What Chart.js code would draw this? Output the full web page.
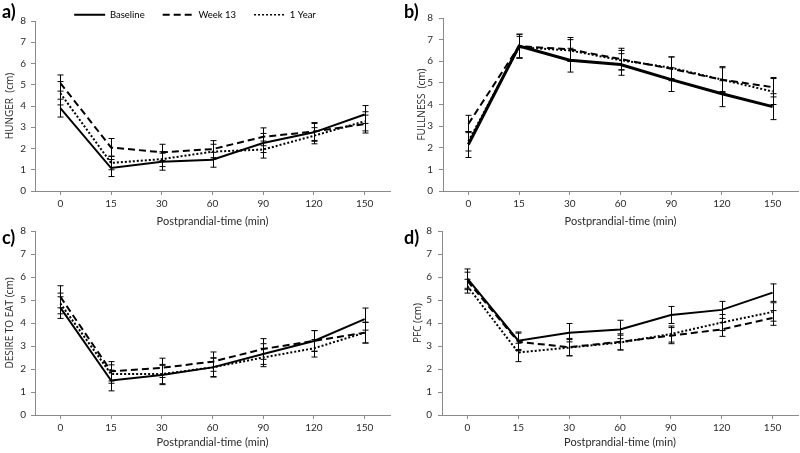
<!DOCTYPE html>
<html>
<head>
<meta charset="utf-8">
<script src="https://cdn.jsdelivr.net/npm/chart.js@4.4.1/dist/chart.umd.min.js"></script>
<style>
  html, body { margin: 0; padding: 0; background: #fff; }
  #wrap { position: relative; width: 800px; height: 453px; overflow: hidden; }
  canvas { position: absolute; }
  .tag { position: absolute; font: bold 18px Lato, sans-serif; color: #000; line-height: 1; }
</style>
</head>
<body>
<div id="wrap">
  <canvas id="cA"></canvas>
  <canvas id="cB"></canvas>
  <canvas id="cC"></canvas>
  <canvas id="cD"></canvas>
  <div class="tag" style="left:2px;top:2px">a)</div>
  <div class="tag" style="left:404px;top:2px">b)</div>
  <div class="tag" style="left:2px;top:228px">c)</div>
  <div class="tag" style="left:404px;top:228px">d)</div>
</div>
<script>
const timeLabels = ['0', '15', '30', '60', '90', '120', '150'];
const seriesNames = ['Baseline', 'Week 13', '1 Year'];
const yTicksMax = 8;

// a) hunger
const hungerBaseline = [3.9, 1.08, 1.38, 1.47, 2.26, 2.76, 3.6];
const hungerWeek13 = [5.08, 2.05, 1.82, 1.97, 2.55, 2.8, 3.15];
const hungerYear1 = [4.6, 1.32, 1.5, 1.85, 1.95, 2.6, 3.28];
const hungerBaselineErr = [0.42, 0.4, 0.4, 0.35, 0.45, 0.42, 0.42];
const hungerWeek13Err = [0.38, 0.42, 0.38, 0.4, 0.42, 0.42, 0.42];
const hungerYear1Err = [0.55, 0.32, 0.35, 0.35, 0.4, 0.38, 0.45];

// b) fullness
const fullBaseline = [2.15, 6.7, 6.05, 5.85, 5.15, 4.5, 3.9];
const fullWeek13 = [3.1, 6.7, 6.55, 6.1, 5.65, 5.15, 4.8];
const fullYear1 = [2.3, 6.65, 6.5, 6.05, 5.7, 5.15, 4.6];
const fullBaselineErr = [0.6, 0.55, 0.55, 0.5, 0.55, 0.6, 0.6];
const fullWeek13Err = [0.4, 0.55, 0.55, 0.5, 0.55, 0.55, 0.45];
const fullYear1Err = [0.45, 0.5, 0.5, 0.45, 0.5, 0.6, 0.6];

// c) desire to eat
const desireBaseline = [4.67, 1.5, 1.74, 2.07, 2.65, 3.22, 4.17];
const desireWeek13 = [5.14, 1.9, 2.05, 2.32, 2.87, 3.22, 3.58];
const desireYear1 = [4.85, 1.78, 1.78, 2.07, 2.5, 2.9, 3.58];
const desireBaselineErr = [0.47, 0.45, 0.42, 0.42, 0.45, 0.45, 0.48];
const desireWeek13Err = [0.48, 0.42, 0.42, 0.42, 0.45, 0.45, 0.45];
const desireYear1Err = [0.45, 0.4, 0.42, 0.4, 0.4, 0.38, 0.45];

// d) PFC
const pfcBaseline = [5.93, 3.23, 3.58, 3.72, 4.35, 4.57, 5.32];
const pfcWeek13 = [5.83, 3.18, 2.95, 3.18, 3.45, 3.72, 4.22];
const pfcYear1 = [5.6, 2.72, 2.93, 3.15, 3.52, 4.02, 4.48];
const pfcBaselineErr = [0.42, 0.38, 0.4, 0.4, 0.37, 0.37, 0.38];
const pfcWeek13Err = [0.38, 0.38, 0.38, 0.35, 0.35, 0.3, 0.32];
const pfcYear1Err = [0.3, 0.4, 0.35, 0.32, 0.35, 0.35, 0.4];

const FONT = 'Lato, sans-serif';
const TEXT = '#2a2a2a';
const AXIS = '#8a8a8a';

// error bars drawn with the chart's own scales
const errorBars = {
  id: 'errorBars',
  afterDatasetsDraw(chart) {
    const { ctx, scales: { x, y } } = chart;
    ctx.save();
    ctx.strokeStyle = '#000';
    ctx.lineWidth = 1;
    ctx.setLineDash([]);
    chart.data.datasets.forEach(ds => {
      ds.data.forEach((v, i) => {
        const e = ds.errors[i];
        const px = Math.round(x.getPixelForValue(i)) + 0.5;
        const yt = y.getPixelForValue(v + e);
        const yb = y.getPixelForValue(v - e);
        ctx.beginPath();
        ctx.moveTo(px, yt); ctx.lineTo(px, yb);
        ctx.moveTo(px - 3, yt); ctx.lineTo(px + 3, yt);
        ctx.moveTo(px - 3, yb); ctx.lineTo(px + 3, yb);
        ctx.stroke();
      });
    });
    ctx.restore();
  }
};

// legend samples keep the dataset dash pattern
function legendItems(chart) {
  return Chart.defaults.plugins.legend.labels.generateLabels(chart).map(item => {
    const ds = chart.data.datasets[item.datasetIndex];
    return Object.assign(item, { lineDash: ds.borderDash || [], lineWidth: ds.borderDash && ds.borderDash[0] < 3 ? 1.5 : 2, strokeStyle: '#000' });
  });
}

function makePanel(id, g, yTitle, base, wk, yr, errs, legend) {
  const el = document.getElementById(id);
  el.style.left = g.left + 'px';
  el.style.top = g.top + 'px';
  el.width = g.w;
  el.height = g.h;
  const xBoxBottom = g.xTitleY + 6.6;
  const legendPad = 18;
  const legendShift = 8;
  new Chart(el, {
    type: 'line',
    data: {
      labels: timeLabels,
      datasets: [
        { label: seriesNames[0], data: base, errors: errs[0], borderColor: '#000', borderWidth: g.baseWidth || 2, pointRadius: 0, fill: false, tension: 0 },
        { label: seriesNames[1], data: wk, errors: errs[1], borderColor: '#000', borderWidth: 2, borderDash: [7, 4], pointRadius: 0, fill: false, tension: 0 },
        { label: seriesNames[2], data: yr, errors: errs[2], borderColor: '#000', borderWidth: 2, borderDash: [2, 2], pointRadius: 0, fill: false, tension: 0 }
      ]
    },
    options: {
      responsive: false,
      animation: false,
      layout: { padding: { left: 0, right: g.w - g.right, top: legend ? -legendShift : g.chartTop, bottom: g.h - xBoxBottom } },
      plugins: {
        legend: {
          display: legend,
          maxHeight: g.chartTop + legendShift,
          labels: {
            usePointStyle: true,
            pointStyle: 'line',
            pointStyleWidth: 31,
            padding: legendPad,
            color: '#000',
            font: { family: FONT, size: 9.5 },
            generateLabels: legendItems
          }
        },
        tooltip: { enabled: false }
      },
      scales: {
        x: {
          type: 'category',
          offset: true,
          afterFit(s) { s.height = xBoxBottom - g.chartBottom; },
          grid: { drawOnChartArea: false, drawTicks: true, tickLength: 4, color: AXIS, offset: false },
          border: { color: AXIS, width: 1 },
          ticks: { color: TEXT, font: { family: FONT, size: 10 }, padding: 3, maxRotation: 0 },
          title: { display: true, text: 'Postprandial-time (min)', color: TEXT, font: { family: FONT, size: 11 }, padding: { top: 0, bottom: 0 } }
        },
        y: {
          min: 0,
          max: yTicksMax,
          afterFit(s) { s.width = g.chartLeft; },
          grid: { drawOnChartArea: false, drawTicks: true, tickLength: 4, color: AXIS },
          border: { color: AXIS, width: 1 },
          ticks: { stepSize: 1, color: TEXT, font: { family: FONT, size: 10 }, padding: g.tickPad },
          title: { display: true, text: yTitle, color: TEXT, font: { family: '"Open Sans", sans-serif', size: 10 }, padding: { top: g.yTitleX - 6, bottom: 0 } }
        }
      }
    },
    plugins: [errorBars]
  });
}

makePanel('cA', { left: 0, top: 0, w: 400, h: 235, chartLeft: 35, right: 390, chartTop: 21, chartBottom: 191, xTitleY: 221, yTitleX: 10, tickPad: 5 },
  'HUNGER  (cm)', hungerBaseline, hungerWeek13, hungerYear1,
  [hungerBaselineErr, hungerWeek13Err, hungerYear1Err], true);

makePanel('cB', { left: 400, top: 0, w: 400, h: 235, chartLeft: 43, right: 398, chartTop: 18, chartBottom: 191, xTitleY: 221, yTitleX: 22, tickPad: 6, baseWidth: 3 },
  'FULLNESS  (cm)', fullBaseline, fullWeek13, fullYear1,
  [fullBaselineErr, fullWeek13Err, fullYear1Err], false);

makePanel('cC', { left: 0, top: 216, w: 400, h: 237, chartLeft: 35, right: 390, chartTop: 15, chartBottom: 199, xTitleY: 226, yTitleX: 10, tickPad: 5 },
  'DESIRE TO EAT (cm)', desireBaseline, desireWeek13, desireYear1,
  [desireBaselineErr, desireWeek13Err, desireYear1Err], false);

makePanel('cD', { left: 400, top: 216, w: 400, h: 237, chartLeft: 42, right: 398, chartTop: 15, chartBottom: 199, xTitleY: 226, yTitleX: 18, tickPad: 6 },
  'PFC (cm)', pfcBaseline, pfcWeek13, pfcYear1,
  [pfcBaselineErr, pfcWeek13Err, pfcYear1Err], false);
</script>
</body>
</html>
